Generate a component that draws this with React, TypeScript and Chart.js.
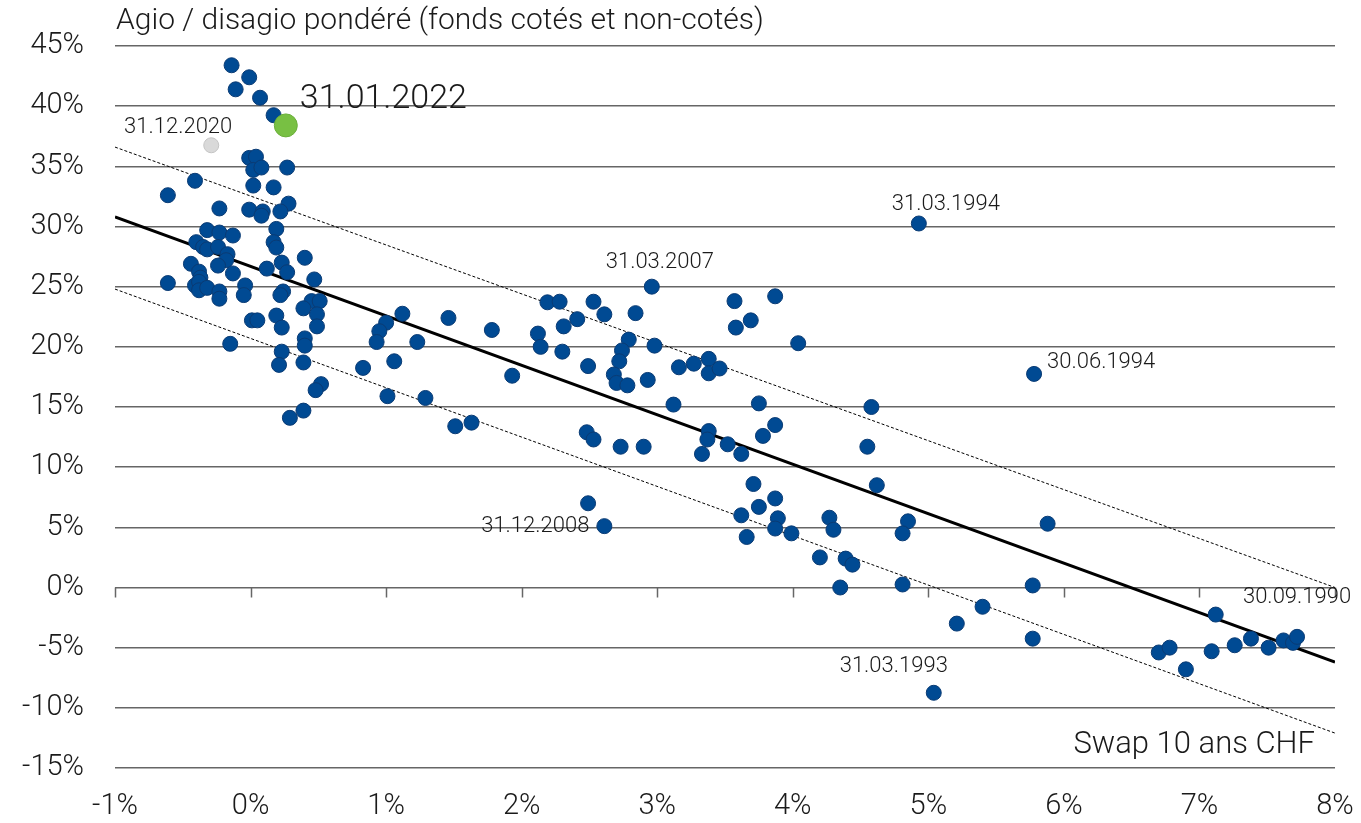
import React, { useEffect, useRef } from "react";
import { Chart, registerables } from "chart.js";

Chart.register(...registerables);

// ---- Data ----
// 10-year CHF swap rate (%) of each observation
const swapRate: number[] = [
  -0.14, -0.01, -0.11, 0.07, 0.17, -0.01, 0.04, 0.02, 0.08, 0.27,
  -0.41, -0.61, 0.02, 0.17, -0.23, 0.28, -0.01, 0.09, 0.08, 0.22,
  0.19, -0.32, -0.23, -0.13, -0.40, -0.35, -0.32, -0.24, 0.17, 0.19,
  -0.17, -0.18, 0.40, -0.44, -0.24, 0.23, 0.12, -0.38, -0.37, 0.27,
  -0.13, -0.61, -0.41, -0.38, -0.38, -0.32, 0.47, -0.04, -0.05, -0.23,
  -0.23, 0.24, 0.22, 0.45, 0.51, 0.39, 0.19, 0.49, 0.01, 0.05,
  0.23, 0.49, 0.40, 0.40, -0.15, 0.23, 0.21, 0.39, 0.52, 0.48,
  0.39, 0.29, 1.12, 1.46, 1.00, 0.95, 0.93, 1.23, 1.78, 0.83,
  1.06, 1.01, 1.29, 1.51, 1.63, 1.93, 2.19, 2.28, 2.53, 2.61,
  2.84, 2.41, 2.31, 2.12, 2.14, 2.30, 2.79, 2.98, 2.74, 2.72,
  2.49, 2.68, 2.70, 2.78, 2.93, 2.48, 2.53, 2.73, 2.90, 2.49,
  3.57, 3.87, 3.58, 3.69, 4.04, 3.16, 3.27, 3.38, 3.38, 3.46,
  3.12, 3.75, 4.58, 3.38, 3.37, 3.33, 3.52, 3.62, 3.78, 3.87,
  4.55, 3.71, 3.87, 3.75, 3.62, 3.89, 3.87, 3.99, 3.66, 4.27,
  4.30, 4.62, 4.85, 4.81, 4.20, 4.39, 4.44, 4.35, 4.81, 5.88,
  5.77, 5.40, 5.21, 5.77, 7.12, 6.70, 6.78, 6.90, 7.09, 7.26,
  7.38, 7.51, 7.62, 7.69,
];
// Weighted agio / disagio (%) of each observation
const agio: number[] = [
  43.4, 42.4, 41.4, 40.7, 39.25, 35.7, 35.8, 34.7, 34.9, 34.9,
  33.8, 32.6, 33.4, 33.25, 31.5, 31.9, 31.4, 31.25, 30.9, 31.25,
  29.8, 29.7, 29.5, 29.25, 28.7, 28.3, 28.1, 28.3, 28.7, 28.25,
  27.7, 27.2, 27.4, 26.9, 26.75, 27.0, 26.5, 26.25, 25.75, 26.2,
  26.1, 25.3, 25.1, 25.4, 24.7, 24.9, 25.6, 25.1, 24.3, 24.6,
  24.0, 24.6, 24.3, 23.8, 23.8, 23.2, 22.6, 22.7, 22.2, 22.2,
  21.6, 21.7, 20.7, 20.1, 20.25, 19.6, 18.5, 18.7, 16.9, 16.4,
  14.7, 14.1, 22.75, 22.4, 22.0, 21.3, 20.4, 20.4, 21.4, 18.25,
  18.8, 15.9, 15.75, 13.4, 13.7, 17.6, 23.7, 23.75, 23.75, 22.7,
  22.8, 22.3, 21.7, 21.1, 20.0, 19.6, 20.6, 20.1, 19.7, 18.8,
  18.4, 17.7, 17.0, 16.8, 17.25, 12.9, 12.3, 11.7, 11.7, 7.0,
  23.8, 24.2, 21.6, 22.2, 20.3, 18.3, 18.6, 19.0, 17.8, 18.2,
  15.2, 15.3, 15.0, 13.0, 12.3, 11.1, 11.9, 11.1, 12.6, 13.5,
  11.7, 8.6, 7.4, 6.7, 6.0, 5.75, 4.9, 4.5, 4.2, 5.8,
  4.8, 8.5, 5.5, 4.5, 2.5, 2.4, 1.9, 0.0, 0.25, 5.3,
  0.17, -1.6, -3.0, -4.25, -2.25, -5.4, -5.0, -6.8, -5.3, -4.8,
  -4.25, -5.0, -4.4, -4.6,
];

// Dated observations that carry a label
const datedLabels: string[] = ["31.03.1994", "31.03.2007", "30.06.1994", "31.12.2008", "31.03.1993", "30.09.1990"];
const datedX: number[] = [4.93, 2.96, 5.78, 2.61, 5.04, 7.72];
const datedY: number[] = [30.25, 25.0, 17.75, 5.1, -8.75, -4.1];

// Previous and current observation
const previousLabel = "31.12.2020";
const previousX = -0.29;
const previousY = 36.75;
const currentLabel = "31.01.2022";
const currentX = 0.26;
const currentY = 38.4;

// Regression line and band
const fitX: number[] = [-1, 8];
const fitY: number[] = [30.8, -6.2];
const upperY: number[] = [36.6, 0.0];
const lowerY: number[] = [24.8, -12.1];

// Axes
const xTicks: number[] = [-1, 0, 1, 2, 3, 4, 5, 6, 7, 8];
const yTicks: number[] = [-15, -10, -5, 0, 5, 10, 15, 20, 25, 30, 35, 40, 45];
const chartTitle = "Agio / disagio pondéré (fonds cotés et non-cotés)";
const xAxisTitle = "Swap 10 ans CHF";

// ---- Styling ----
const FONT = "Roboto, 'Liberation Sans', Arial, sans-serif";
const BLUE = "#004a93";
const BLUE_BORDER = "#0a3b74";
const GRID = "#666666";
const TEXT = "#1a1a1a";

// placement of dated labels relative to their point: [dx, dy, align]
const labelPlacement: [number, number, CanvasTextAlign][] = [
  [27, -19, "center"],
  [8, -24, "center"],
  [13, -11, "left"],
  [-15, 0, "right"],
  [-40, -26, "center"],
  [0, -39, "center"],
];

const decorPlugin = {
  id: "decor",
  beforeDatasetsDraw(chart: any) {
    const { ctx, scales } = chart;
    const xs = scales.x;
    const ys = scales.y;
    const y0 = ys.getPixelForValue(0);
    ctx.save();
    ctx.strokeStyle = GRID;
    ctx.lineWidth = 1.5;
    xTicks.forEach((v) => {
      const px = Math.round(xs.getPixelForValue(v)) + 0.5;
      ctx.beginPath();
      ctx.moveTo(px, y0);
      ctx.lineTo(px, y0 + 10);
      ctx.stroke();
    });
    ctx.restore();
  },
  afterDatasetsDraw(chart: any) {
    const { ctx, scales, chartArea } = chart;
    const xs = scales.x;
    const ys = scales.y;
    ctx.save();
    ctx.fillStyle = TEXT;
    ctx.textBaseline = "middle";

    ctx.font = `300 22px ${FONT}`;
    datedLabels.forEach((t, i) => {
      const [dx, dy, al] = labelPlacement[i];
      ctx.textAlign = al;
      ctx.fillText(t, xs.getPixelForValue(datedX[i]) + dx, ys.getPixelForValue(datedY[i]) + dy);
    });

    ctx.textAlign = "right";
    ctx.fillText(previousLabel, xs.getPixelForValue(previousX) + 21, ys.getPixelForValue(previousY) - 18);

    ctx.font = `300 34px ${FONT}`;
    ctx.textAlign = "left";
    ctx.fillText(currentLabel, xs.getPixelForValue(currentX) + 14, ys.getPixelForValue(currentY) - 26);

    ctx.font = `300 30px ${FONT}`;
    ctx.textAlign = "left";
    ctx.fillText(chartTitle, chartArea.left + 1, chartArea.top - 25);

    ctx.font = `300 31px ${FONT}`;
    ctx.textAlign = "right";
    ctx.fillText(xAxisTitle, chartArea.right - 20, chartArea.bottom - 23);
    ctx.restore();
  },
};

export default function App() {
  const ref = useRef<HTMLCanvasElement | null>(null);

  useEffect(() => {
    if (!ref.current) return;
    const pts = swapRate.map((x, i) => ({ x, y: agio[i] }));
    const dated = datedX.map((x, i) => ({ x, y: datedY[i] }));
    const line = (ys: number[]) => fitX.map((x, i) => ({ x, y: ys[i] }));

    const chart = new Chart(ref.current, {
      type: "scatter",
      data: {
        datasets: [
          {
            label: "current",
            data: [{ x: currentX, y: currentY }],
            backgroundColor: "#78c043",
            borderColor: "#6aae3a",
            borderWidth: 1,
            pointRadius: 11.5,
            order: 0,
          },
          {
            label: "previous",
            data: [{ x: previousX, y: previousY }],
            backgroundColor: "#d9d9d9",
            borderColor: "#c4c4c4",
            borderWidth: 1,
            pointRadius: 7.5,
            order: 0,
          },
          {
            label: "obs",
            data: [...pts, ...dated],
            backgroundColor: BLUE,
            borderColor: BLUE_BORDER,
            borderWidth: 1,
            pointRadius: 7.5,
            order: 1,
          },
          {
            label: "fit",
            type: "line",
            data: line(fitY),
            borderColor: "#000000",
            borderWidth: 3,
            pointRadius: 0,
            fill: false,
            order: 2,
          },
          {
            label: "upper",
            type: "line",
            data: line(upperY),
            borderColor: "#000000",
            borderWidth: 1,
            borderDash: [3, 2],
            pointRadius: 0,
            fill: false,
            order: 2,
          },
          {
            label: "lower",
            type: "line",
            data: line(lowerY),
            borderColor: "#000000",
            borderWidth: 1,
            borderDash: [3, 2],
            pointRadius: 0,
            fill: false,
            order: 2,
          },
        ] as any,
      },
      options: {
        animation: false,
        responsive: false,
        layout: { padding: { top: 46, right: 26, bottom: 0, left: 0 } },
        plugins: {
          legend: { display: false },
          tooltip: { enabled: false },
          title: { display: false },
        },
        scales: {
          x: {
            type: "linear",
            position: "bottom",
            min: -1,
            max: 8,
            afterBuildTicks: (s: any) => {
              s.ticks = xTicks.map((v) => ({ value: v }));
            },
            afterFit: (s: any) => {
              s.height = 55;
              s.paddingLeft = 0;
              s.paddingRight = 0;
            },
            ticks: {
              color: TEXT,
              padding: 21,
              font: { family: FONT, size: 29, weight: "300" as any },
              callback: (v: any) => `${v}%`,
            },
            grid: { display: false, drawTicks: false },
            border: { display: false },
          },
          y: {
            type: "linear",
            min: -15,
            max: 45,
            afterBuildTicks: (s: any) => {
              s.ticks = yTicks.map((v) => ({ value: v }));
            },
            afterFit: (s: any) => {
              s.width = 115;
              s.paddingTop = 0;
              s.paddingBottom = 0;
            },
            ticks: {
              color: TEXT,
              padding: 31,
              font: { family: FONT, size: 29, weight: "300" as any },
              callback: (v: any) => `${v}%`,
            },
            grid: { color: GRID, lineWidth: 1.5, drawTicks: false },
            border: { display: false },
          },
        },
      },
      plugins: [decorPlugin],
    });
    return () => chart.destroy();
  }, []);

  return (
    <div style={{ position: "absolute", left: 0, top: 0, width: 1361, height: 823, background: "#fff" }}>
      <canvas ref={ref} width={1361} height={823} style={{ display: "block" }} />
    </div>
  );
}
